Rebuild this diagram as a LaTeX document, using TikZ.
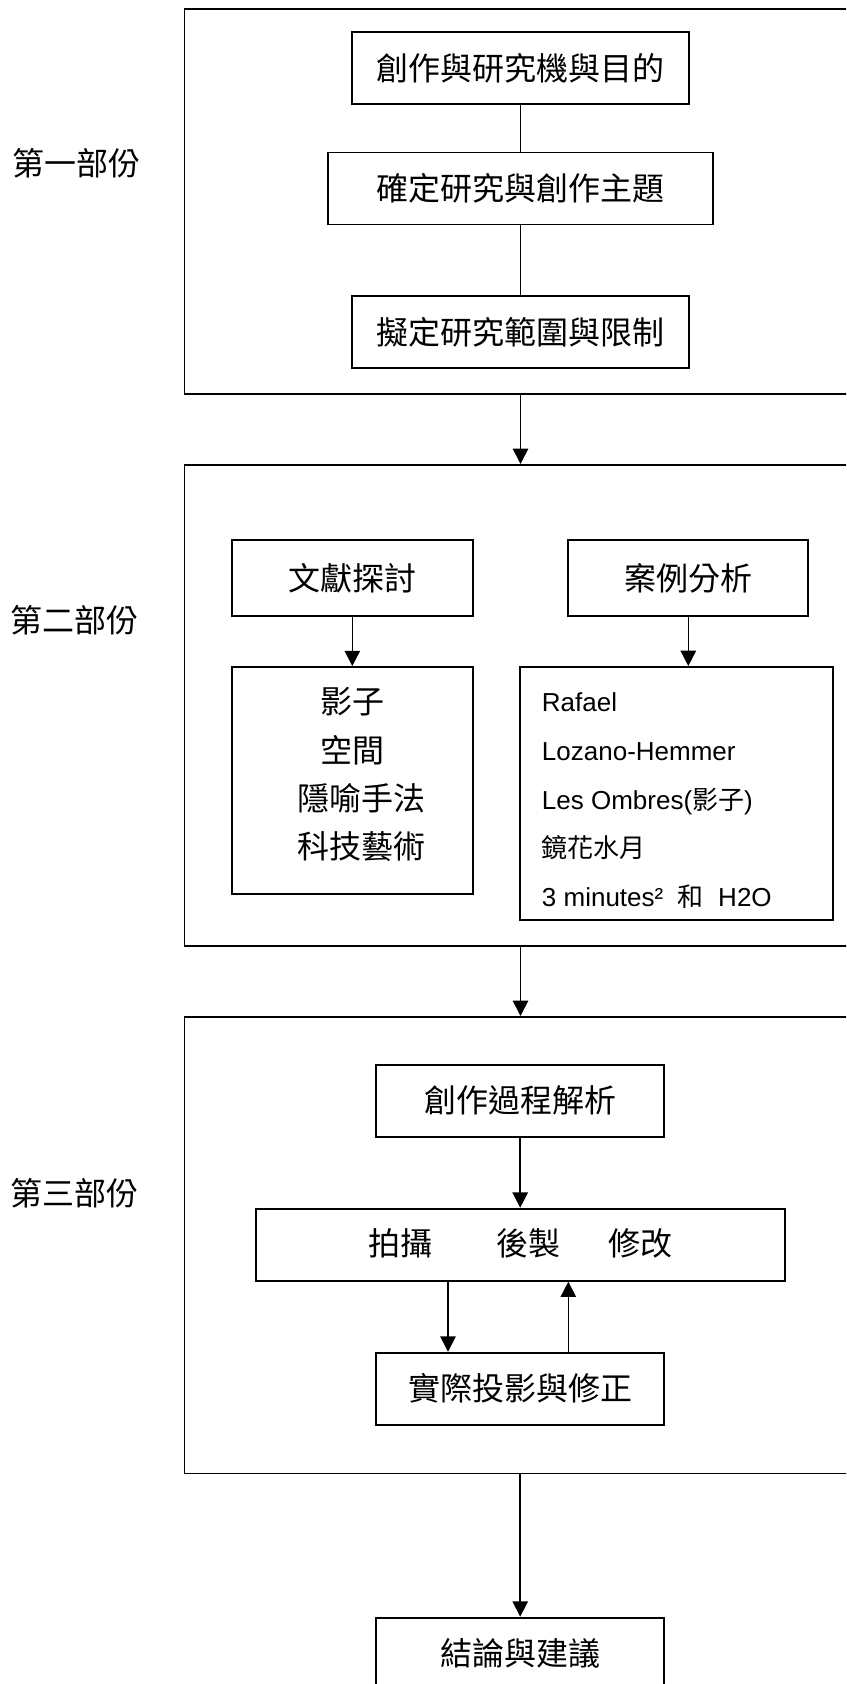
\documentclass[tikz,border=0pt]{standalone}
\usepackage{fontspec}
\setmainfont{Liberation Sans}
\newfontfamily\cjk{Noto Sans CJK TC}
\usetikzlibrary{arrows.meta}
\begin{document}
\begin{tikzpicture}[x=0.75pt,y=-0.75pt,
  box/.style={draw,line width=1.4pt,inner sep=0pt,font=\cjk\fontsize{24}{28}\selectfont},
  grp/.style={draw,line width=1.4pt,inner sep=0pt,anchor=north west,minimum width=537.4pt},
  lbl/.style={inner sep=0pt,font=\cjk\fontsize{24}{28}\selectfont},
  lat/.style={inner sep=0pt,anchor=base west,font=\fontsize{19.5}{22}\selectfont},
  conn/.style={line width=1.2pt},
  arr/.style={line width=1.2pt,-{Triangle[length=11.5pt,width=11.5pt]}}]
\clip (0,0) rectangle (846,1684);
% groups
\node[grp,minimum height=288.3pt] (g1) at (183.5,8.3) {};
\node[grp,minimum height=360.75pt] (g2) at (183.5,464) {};
\node[grp,minimum height=342.4pt] (g3) at (183.5,1016) {};
% side labels
\node[lbl] (l1) at (76.6,163) {第一部份};
\node[lbl] (l2) at (75,620) {第二部份};
\node[lbl] (l3) at (75,1193) {第三部份};
% part one
\node[box,minimum width=252.75pt,minimum height=54pt] (A) at (520.5,68.3) {創作與研究機與目的};
\node[box,minimum width=288.75pt,minimum height=54pt] (B) at (520.5,188.5) {確定研究與創作主題};
\node[box,minimum width=252.75pt,minimum height=54pt] (C) at (520.5,332.2) {擬定研究範圍與限制};
% part two
\node[box,minimum width=180.5pt,minimum height=57.2pt] (D) at (352.3,578.2) {文獻探討};
\node[box,minimum width=180pt,minimum height=57.2pt] (E) at (688.3,578.2) {案例分析};
\node[box,minimum width=180.5pt,minimum height=170.5pt] (F) at (352.3,780.7) {};
\node[box,minimum width=234.5pt,minimum height=189.75pt] (G) at (676.3,793.5) {};
\node[lbl] (f1) at (352,701.7) {影子};
\node[lbl] (f2) at (352,750) {空間};
\node[lbl] (f3) at (361,798) {隱喻手法};
\node[lbl] (f4) at (361,846.7) {科技藝術};
\node[lat] (g1t) at (541.7,711.7) {Rafael};
\node[lat] (g2t) at (541.7,760.4) {Lozano-Hemmer};
\node[lat] (g3t) at (541.7,809.1) {Les Ombres({\cjk 影子})};
\node[lat] (g4t) at (541.7,857.8) {\cjk 鏡花水月};
\node[lat] (g5t) at (541.7,906.5) {3 minutes²\ \ {\cjk 和}\ \ H2O};
% part three
\node[box,minimum width=216.2pt,minimum height=54pt] (H) at (520.2,1100.7) {創作過程解析};
\node[box,minimum width=396.75pt,minimum height=54pt] (I) at (520.2,1244.7) {};
\node[lbl] (i1) at (400.7,1243.3) {拍攝};
\node[lbl] (i2) at (528,1243.3) {後製};
\node[lbl] (i3) at (640.3,1243.3) {修改};
\node[box,minimum width=216.2pt,minimum height=54pt] (J) at (520.2,1388.7) {實際投影與修正};
% conclusion
\node[box,minimum width=216.2pt,minimum height=75pt,anchor=north] (K) at (520.2,1616.7) {};
\node[lbl] (kt) at (520.2,1653) {結論與建議};
% connectors
\draw[conn] (A.south) -- (A.south |- B.north);
\draw[conn] (B.south) -- (B.south |- C.north);
\draw[arr] (C.south |- g1.south) -- (C.south |- g2.north);
\draw[arr] (D.south) -- (D.south |- F.north);
\draw[arr] (E.south) -- (E.south |- G.north);
\draw[arr] (C.south |- g2.south) -- (C.south |- g3.north);
\draw[arr] (H.south) -- (H.south |- I.north);
\draw[arr] ([xshift=-54.15pt]I.south) -- ([xshift=-54.15pt]I.south |- J.north);
\draw[arr] ([xshift=36.1pt]J.north) -- ([xshift=36.1pt]J.north |- I.south);
\draw[arr] (H.south |- g3.south) -- (K.north);
\end{tikzpicture}
\end{document}
